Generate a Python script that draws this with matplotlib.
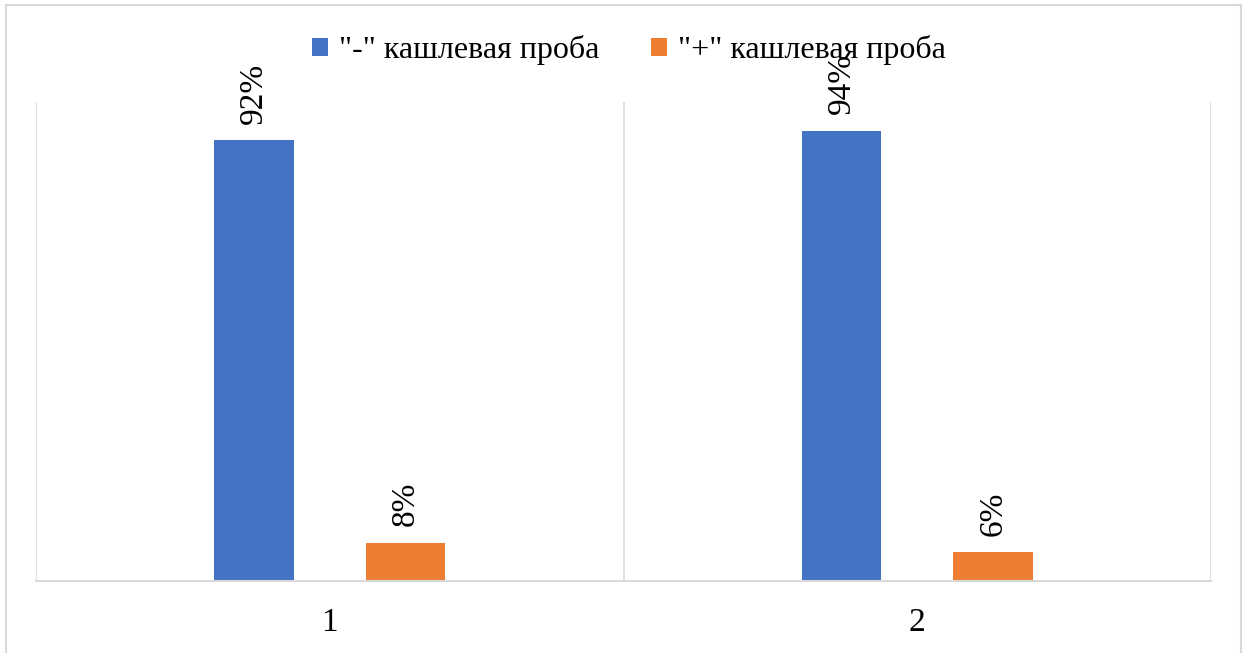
import numpy as np
import matplotlib.pyplot as plt
from matplotlib.patches import Rectangle

categories = ['1', '2']
neg_values = [0.92, 0.94]
pos_values = [0.08, 0.06]
series_names = ['"-" кашлевая проба', '"+" кашлевая проба']

plt.rcParams['font.family'] = ['Liberation Serif', 'DejaVu Serif']

W, H = 1248, 653
fig = plt.figure(figsize=(W / 100, H / 100), dpi=100)

# outer chart border
fig.patches.append(Rectangle((6 / W, -0.05), 1235 / W, 1.05 - 5 / H,
                             transform=fig.transFigure, fill=False,
                             edgecolor='#d9d9d9', linewidth=1.5))

ax = fig.add_axes([36 / W, 72 / H, 1175 / W, 479 / H])

x = np.arange(len(categories))
width = 0.135
offset = 0.129
blue = '#4472c4'
orange = '#ed7d31'

b1 = ax.bar(x - offset, neg_values, width, color=blue, label=series_names[0])
b2 = ax.bar(x + offset, pos_values, width, color=orange, label=series_names[1])

for bars, vals in ((b1, neg_values), (b2, pos_values)):
    for rect, v in zip(bars, vals):
        ax.annotate(f'{v * 100:.0f}%', (rect.get_x() + rect.get_width() / 2, v),
                    xytext=(0, 12), textcoords='offset points',
                    rotation=90, ha='center', va='bottom', fontsize=24)

ax.set_xlim(-0.5, len(categories) - 0.5)
ax.set_ylim(0, 1.0)
ax.set_yticks([])
ax.set_xticks(x)
ax.set_xticklabels(categories, fontsize=24)
ax.tick_params(axis='x', length=0, pad=19)

for sep in np.arange(-0.5, len(categories), 1.0):
    ax.axvline(sep, color='#d9d9d9', linewidth=1.2, zorder=0)

for side in ('top', 'right', 'left'):
    ax.spines[side].set_visible(False)
ax.spines['bottom'].set_color('#d9d9d9')
ax.spines['bottom'].set_linewidth(1.5)

fig.legend(loc='center', bbox_to_anchor=(629 / W, 1 - 50 / H), ncol=2,
           frameon=False, fontsize=23, handlelength=0.5, handleheight=0.5,
           handletextpad=0.35, columnspacing=1.6)

fig.savefig('out.png', dpi=100)
